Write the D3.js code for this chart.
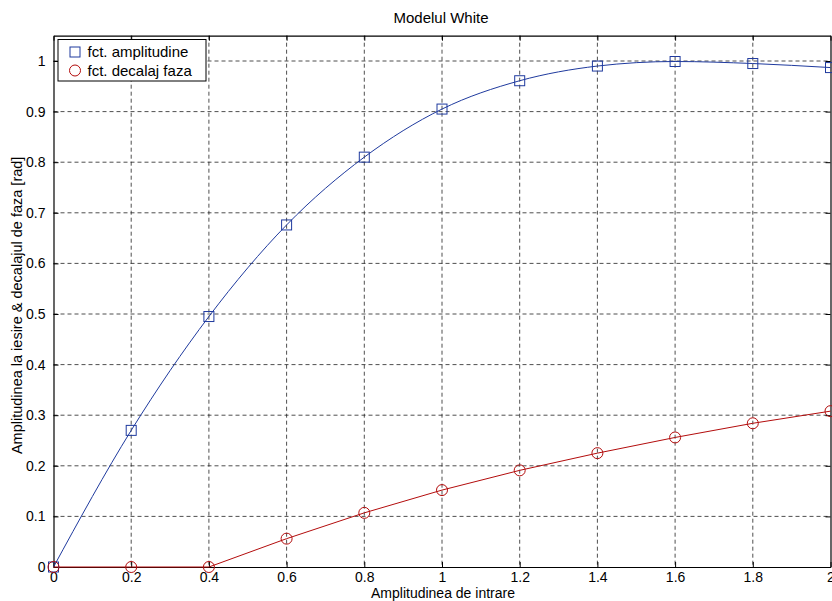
<!DOCTYPE html>
<html><head><meta charset="utf-8">
<script src="https://cdn.jsdelivr.net/npm/d3@7"></script>
<style>body{margin:0;background:#fff}text{font-family:"Liberation Sans",Arial,sans-serif}</style>
</head><body><svg id="c" width="832" height="601"></svg>
<script>
const xVals = [0, 0.2, 0.4, 0.6, 0.8, 1.0, 1.2, 1.4, 1.6, 1.8, 2.0];
const amplitude = [0, 0.27, 0.495, 0.676, 0.81, 0.905, 0.961, 0.99, 0.999, 0.995, 0.987];
const phase = [0, 0, 0, 0.056, 0.107, 0.152, 0.191, 0.225, 0.256, 0.284, 0.308];
const xTicks = [0, 0.2, 0.4, 0.6, 0.8, 1, 1.2, 1.4, 1.6, 1.8, 2];
const yTicks = [0, 0.1, 0.2, 0.3, 0.4, 0.5, 0.6, 0.7, 0.8, 0.9, 1];
const seriesNames = ["fct. amplitudine", "fct. decalaj faza"];

const svg = d3.select("#c");
const L = 53.5, R = 830.5, T = 35.7, B = 567;
const x = d3.scaleLinear().domain([0, 2]).range([L, R]);
const y = d3.scaleLinear().domain([0, 1.05]).range([B, T]);
const blue = "#1f3a9e", red = "#b30c0c";
const FS = 14;

// grid
const g = svg.append("g");
g.selectAll(".gx").data(xTicks.filter(d => d > 0 && d < 2)).enter().append("line")
  .attr("x1", d => x(d)).attr("x2", d => x(d)).attr("y1", T).attr("y2", B)
  .attr("stroke", "#222").attr("stroke-width", 0.8).attr("stroke-dasharray", "4,3");
g.selectAll(".gy").data(yTicks.filter(d => d > 0)).enter().append("line")
  .attr("y1", d => y(d)).attr("y2", d => y(d)).attr("x1", L).attr("x2", R)
  .attr("stroke", "#222").attr("stroke-width", 0.8).attr("stroke-dasharray", "4,3");

// axes
const fmt = d => String(d);
const ax = svg.append("g").attr("transform", `translate(0,${B})`)
  .call(d3.axisBottom(x).tickValues(xTicks).tickFormat(fmt).tickSizeInner(-5).tickSizeOuter(0).tickPadding(7));
const ay = svg.append("g").attr("transform", `translate(${L},0)`)
  .call(d3.axisLeft(y).tickValues(yTicks).tickFormat(fmt).tickSizeInner(-5).tickSizeOuter(0).tickPadding(8));
const axT = svg.append("g").attr("transform", `translate(0,${T})`)
  .call(d3.axisTop(x).tickValues(xTicks).tickFormat("").tickSizeInner(-5).tickSizeOuter(0));
const ayR = svg.append("g").attr("transform", `translate(${R},0)`)
  .call(d3.axisRight(y).tickValues(yTicks).tickFormat("").tickSizeInner(-5).tickSizeOuter(0));
[ax, ay, axT, ayR].forEach(a => {
  a.selectAll("path").attr("stroke", "#000").attr("stroke-width", 1.2);
  a.selectAll("line").attr("stroke", "#000");
  a.selectAll("text").attr("font-size", FS).attr("fill", "#000").attr("font-family", "Liberation Sans, Arial, sans-serif");
});
ax.selectAll("text").attr("dy", "0.55em");

// lines
const lineA = d3.line().x((d, i) => x(xVals[i])).y(d => y(d)).curve(d3.curveMonotoneX);
const lineP = d3.line().x((d, i) => x(xVals[i])).y(d => y(d));
svg.append("path").attr("d", lineA(amplitude)).attr("fill", "none").attr("stroke", blue).attr("stroke-width", 1);
svg.append("path").attr("d", lineP(phase)).attr("fill", "none").attr("stroke", red).attr("stroke-width", 1);

// markers
svg.selectAll(".sq").data(amplitude).enter().append("rect")
  .attr("x", (d, i) => x(xVals[i]) - 5).attr("y", d => y(d) - 5).attr("width", 10).attr("height", 10)
  .attr("fill", "none").attr("stroke", blue).attr("stroke-width", 1);
svg.selectAll(".ci").data(phase).enter().append("circle")
  .attr("cx", (d, i) => x(xVals[i])).attr("cy", d => y(d)).attr("r", 5.5)
  .attr("fill", "none").attr("stroke", red).attr("stroke-width", 1);

// legend
const lg = svg.append("g");
lg.append("rect").attr("x", 58).attr("y", 39.5).attr("width", 148).attr("height", 41.5)
  .attr("fill", "#fff").attr("stroke", "#000").attr("stroke-width", 1);
lg.append("rect").attr("x", 70).attr("y", 47).attr("width", 10).attr("height", 10)
  .attr("fill", "none").attr("stroke", blue);
lg.append("circle").attr("cx", 75).attr("cy", 70.5).attr("r", 5.5)
  .attr("fill", "none").attr("stroke", red);
lg.append("text").attr("x", 87.5).attr("y", 57).attr("font-size", 15).text(seriesNames[0]);
lg.append("text").attr("x", 87.5).attr("y", 75.5).attr("font-size", 15).text(seriesNames[1]);

// titles
svg.append("text").attr("x", 441).attr("y", 23).attr("text-anchor", "middle").attr("font-size", 15).text("Modelul White");
svg.append("text").attr("x", 443).attr("y", 598).attr("text-anchor", "middle").attr("font-size", 14).text("Amplitudinea de intrare");
svg.append("text").attr("transform", `translate(22,${(T + B) / 2 + 4}) rotate(-90)`).attr("text-anchor", "middle")
  .attr("font-size", 14.5).text("Amplitudinea la iesire & decalajul de faza [rad]");
</script></body></html>
